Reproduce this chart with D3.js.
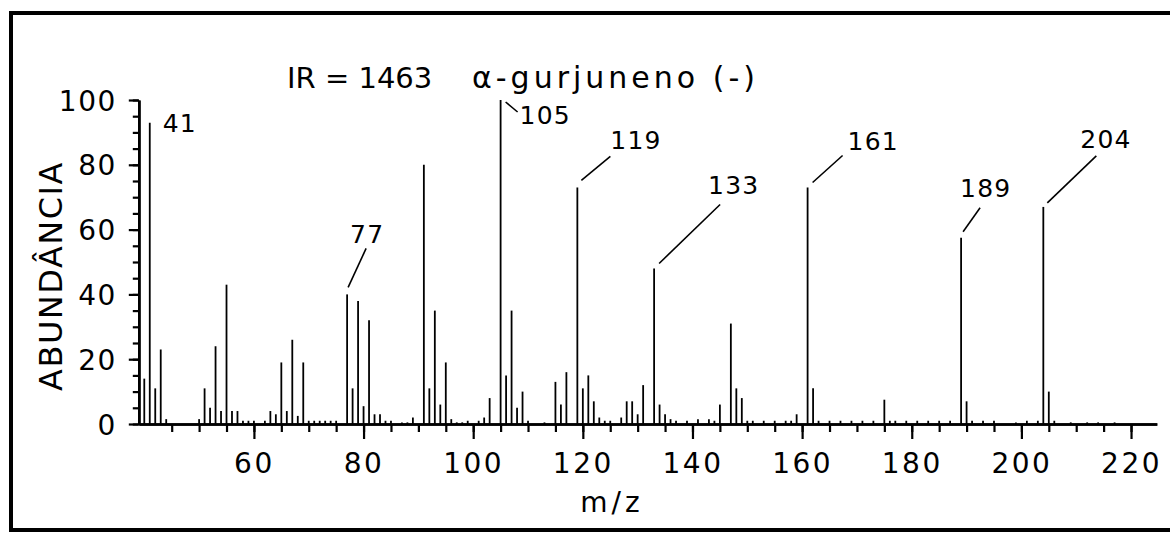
<!DOCTYPE html>
<html>
<head>
<meta charset="utf-8">
<script src="https://cdn.jsdelivr.net/npm/d3@7"></script>
<style>
body {margin:0; background:#fff; overflow:hidden;}
svg {display:block; font-family:"DejaVu Sans", sans-serif;}
</style>
</head>
<body>
<svg id="chart" width="1170" height="537"></svg>
<script>
// mass spectrum (stick plot) of alpha-gurjunene

var mzValues = [40, 41, 42, 43, 44, 50, 51, 52, 53, 54, 55, 56, 57, 58, 59, 60, 62, 63, 64, 65,
	66, 67, 68, 69, 70, 71, 72, 73, 74, 75, 77, 78, 79, 80, 81, 82, 83, 84, 85, 87,
	88, 89, 91, 92, 93, 94, 95, 96, 97, 98, 99, 101, 102, 103, 105, 106, 107, 108, 109, 110,
	113, 115, 116, 117, 119, 120, 121, 122, 123, 124, 125, 127, 128, 129, 130, 131, 133, 134, 135, 136,
	137, 139, 141, 143, 144, 145, 147, 148, 149, 150, 151, 153, 155, 157, 158, 159, 161, 162, 163, 165,
	167, 169, 171, 173, 175, 176, 177, 179, 181, 183, 185, 187, 189, 190, 191, 193, 195, 199, 201, 203,
	204, 205, 206, 209, 212, 214, 217];
var abundances = [14, 93, 11, 23, 1.5, 1.5, 11, 5, 24, 4, 43, 4, 4, 1, 1, 1, 1, 4, 3, 19,
	4, 26, 2.5, 19, 1, 1, 1, 1, 1, 1, 40, 11, 38, 5.5, 32, 3, 3, 1, 1, 0.5,
	0.5, 2, 80, 11, 35, 6, 19, 1.5, 0.5, 0.5, 1, 1, 2, 8, 100, 15, 35, 5, 10, 1,
	0.5, 13, 6, 16, 73, 11, 15, 7, 2, 1, 1, 2, 7, 7, 3, 12, 48, 6, 3, 1.5,
	1, 1, 1.5, 1.5, 1, 6, 31, 11, 8, 1, 1, 1, 1, 1, 1, 3, 73, 11, 1, 1,
	1, 1, 1, 1, 7.5, 1, 1, 1, 1, 1, 1, 1, 57.5, 7, 1, 1, 1, 0.5, 1, 1,
	67, 10, 1, 0.5, 0.5, 0.5, 0.5];

var labelledPeaks = [41, 77, 105, 119, 133, 161, 189, 204];
var xTickLabels = [60, 80, 100, 120, 140, 160, 180, 200, 220];
var yTickLabels = [0, 20, 40, 60, 80, 100];

var titleText = 'IR = 1463';
var compoundText = 'α-gurjuneno (-)';
var xTitle = 'm/z';
var yTitle = 'ABUNDÂNCIA';

// where each peak label sits, in px from the top of its stick
// [label dx, label dy, leader x1, y1, x2, y2] (no leader when null)
var labelPlace = {
	41:  [13, 9, null],
	77:  [3, -51, 1, -7, 19, -46],
	105: [19, 24, 5, 2, 17, 12],
	119: [33, -38, 4, -7, 33, -31],
	133: [54, -74, 5, -5, 66, -64],
	161: [40, -37, 5, -5, 35, -32],
	189: [-1, -41, 2, -6, 19, -30],
	204: [37, -59, 4, -4, 53, -51]
};

var svg = d3.select('#chart');

var x = d3.scaleLinear().domain([39, 224.7]).range([138.8, 1156.8]);
var y = d3.scaleLinear().domain([0, 100]).range([424, 100]);

var peaks = mzValues.map(function (m, i) {return {mz: m, ab: abundances[i]};});

// outer frame (right side runs off the page, as in the scan)
svg.append('rect')
	.attr('x', 11).attr('y', 13).attr('width', 1200).attr('height', 517)
	.attr('fill', 'none').attr('stroke', 'black').attr('stroke-width', 4);

// x axis: minor ticks every 5, long ticks with labels every 20
var gx = svg.append('g').attr('transform', 'translate(0,' + y(0) + ')');
gx.append('g').call(d3.axisBottom(x).tickValues(d3.range(45, 221, 5)).tickSize(8).tickSizeOuter(0).tickFormat(''));
gx.append('g').call(d3.axisBottom(x).tickValues(xTickLabels).tickSize(15).tickSizeOuter(0));
gx.selectAll('text').attr('y', 49).attr('dy', 0)
	.style('font-size', '28px').style('font-family', '"DejaVu Sans", sans-serif')
	.style('letter-spacing', '2.5px').attr('fill', 'black');

// y axis
var gy = svg.append('g').attr('transform', 'translate(' + x(39) + ',0)');
gy.append('g').call(d3.axisLeft(y).tickValues(d3.range(0, 101, 5)).tickSize(6).tickSizeOuter(0).tickFormat(''));
gy.append('g').call(d3.axisLeft(y).tickValues(yTickLabels).tickSize(10).tickPadding(12).tickSizeOuter(0));
gy.selectAll('text').attr('dy', '0.36em')
	.style('font-size', '28px').style('font-family', '"DejaVu Sans", sans-serif')
	.style('letter-spacing', '1.5px').attr('fill', 'black');

svg.selectAll('.domain').attr('stroke', 'black').attr('stroke-width', 2.6);
svg.selectAll('.tick line').attr('stroke', 'black').attr('stroke-width', 2.2);

// the sticks
svg.append('g').selectAll('line.peak').data(peaks).enter()
	.append('line').attr('class', 'peak')
	.attr('x1', function (d) {return x(d.mz);})
	.attr('x2', function (d) {return x(d.mz);})
	.attr('y1', y(0))
	.attr('y2', function (d) {return y(d.ab);})
	.attr('stroke', 'black').attr('stroke-width', 1.8);

// peak labels and leader lines
var labels = svg.append('g');
labelledPeaks.forEach(function (m) {
	var p = peaks.filter(function (d) {return d.mz == m;})[0];
	var px = x(p.mz), py = y(p.ab);
	var o = labelPlace[m];
	if (o[2] != null) {
		labels.append('line')
			.attr('x1', px + o[2]).attr('y1', py + o[3])
			.attr('x2', px + o[4]).attr('y2', py + o[5])
			.attr('stroke', 'black').attr('stroke-width', 1.6);
	}
	labels.append('text')
		.attr('x', px + o[0]).attr('y', py + o[1])
		.attr('font-size', 25).attr('letter-spacing', 1.2)
		.text(m);
});

// titles
svg.append('text').attr('x', 287).attr('y', 88)
	.attr('font-size', 29)
	.text(titleText);
svg.append('text').attr('x', 472).attr('y', 88)
	.attr('font-size', 30).attr('letter-spacing', 4)
	.text(compoundText);

svg.append('text').attr('x', 612).attr('y', 512)
	.attr('text-anchor', 'middle').attr('font-size', 28).attr('letter-spacing', 4)
	.text(xTitle);

svg.append('text')
	.attr('transform', 'translate(62,276) rotate(-90)')
	.attr('text-anchor', 'middle').attr('font-size', 32).attr('letter-spacing', 1.5)
	.text(yTitle);
</script>
</body>
</html>
